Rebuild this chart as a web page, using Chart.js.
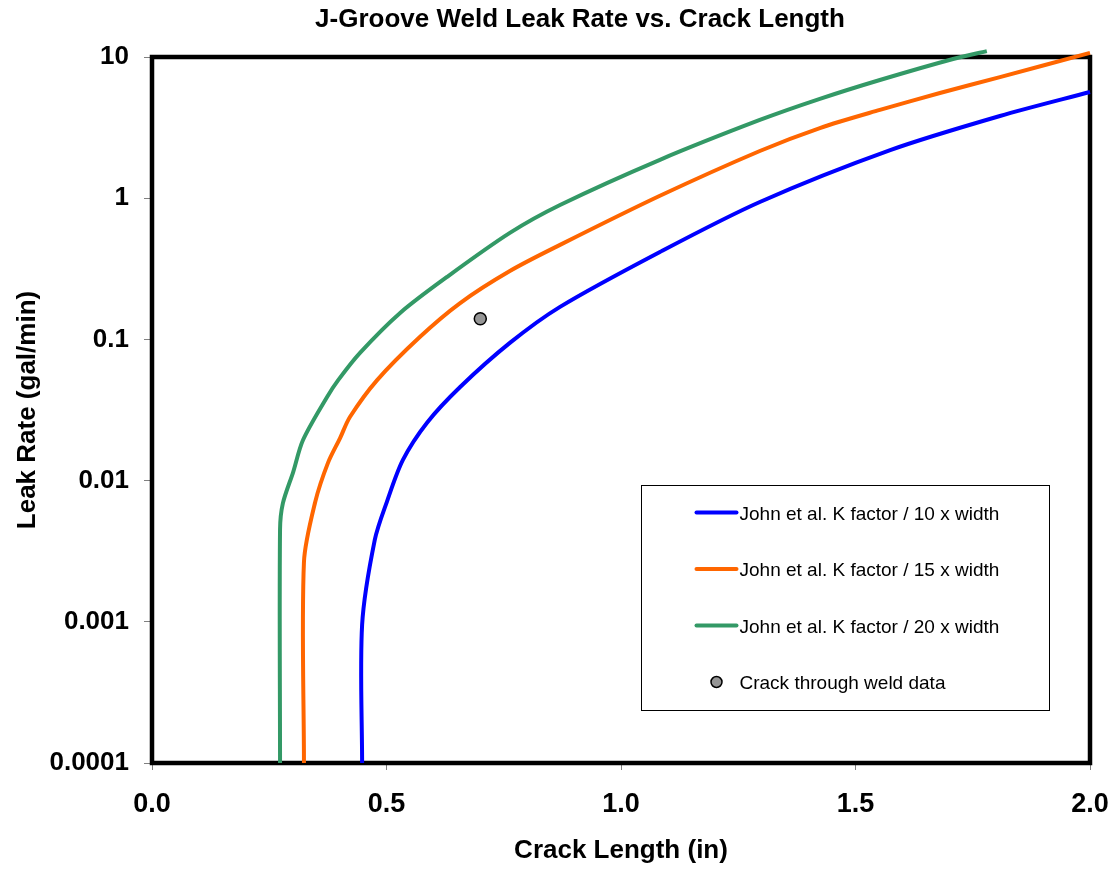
<!DOCTYPE html>
<html>
<head>
<meta charset="utf-8">
<title>J-Groove Weld Leak Rate vs. Crack Length</title>
<script src="https://cdn.jsdelivr.net/npm/chart.js@4.4.1/dist/chart.umd.min.js"></script>
<style>
  html, body { margin: 0; padding: 0; background: #ffffff; }
  #wrap { width: 1116px; height: 869px; }
</style>
</head>
<body>
<div id="wrap"><canvas id="leakChart" width="1116" height="869"></canvas></div>
<script>
// values
const chartTitle = 'J-Groove Weld Leak Rate vs. Crack Length';
const seriesNames = [
    'John et al. K factor / 10 x width',
    'John et al. K factor / 15 x width',
    'John et al. K factor / 20 x width',
    'Crack through weld data'
];

const crackBlue = [0.448, 0.448, 0.475, 0.501, 0.535, 0.586, 0.657, 0.763, 0.870, 1.083, 1.296, 1.574, 1.808, 2.0];
const leakBlue = [0.0001, 0.00095, 0.0038, 0.0071, 0.014, 0.0256, 0.046, 0.0944, 0.170, 0.416, 0.94, 2.19, 3.82, 5.65];

const crackOrange = [0.324, 0.324, 0.348, 0.375, 0.401, 0.422, 0.480, 0.571, 0.657, 0.763, 0.870, 1.083, 1.296, 1.424, 1.552, 1.680, 1.808, 2.0];
const leakOrange = [0.0001, 0.00265, 0.00705, 0.0133, 0.020, 0.0282, 0.0515, 0.104, 0.181, 0.305, 0.467, 1.04, 2.16, 3.14, 4.22, 5.56, 7.21, 10.7];

const crackGreen = [0.273, 0.273, 0.279, 0.301, 0.322, 0.373, 0.397, 0.443, 0.529, 0.629, 0.763, 0.870, 1.083, 1.296, 1.424, 1.552, 1.708, 1.780];
const leakGreen = [0.0001, 0.0045, 0.0069, 0.0115, 0.0194, 0.039, 0.0515, 0.080, 0.154, 0.277, 0.568, 0.895, 1.87, 3.58, 5.05, 6.87, 9.68, 11.0];

const crackData = [0.70];
const leakData = [0.14];

const xTicks = [0, 0.5, 1.0, 1.5, 2.0];
const yTicks = [0.0001, 0.001, 0.01, 0.1, 1, 10];
const yTickLabels = ['0.0001', '0.001', '0.01', '0.1', '1', '10'];

const FONT = '"Liberation Sans", Arial, Helvetica, sans-serif';

function toPoints(xs, ys) {
    return xs.map((x, i) => ({ x: x, y: ys[i] }));
}

function curve(label, xs, ys, color) {
    return {
        label: label,
        data: toPoints(xs, ys),
        showLine: true,
        borderColor: color,
        backgroundColor: color,
        borderWidth: 4,
        pointRadius: 0,
        pointHoverRadius: 0,
        tension: 0.3,
        clip: false
    };
}

// plot frame, drawn under the curves (they run over the top edge)
const framePlugin = {
    id: 'frame',
    beforeDatasetsDraw(chart) {
        const { ctx, chartArea: a } = chart;
        ctx.save();
        ctx.strokeStyle = '#000000';
        ctx.lineWidth = 4.5;
        ctx.strokeRect(a.left, a.top, a.right - a.left, a.bottom - a.top);
        ctx.restore();
    }
};

const titlePlugin = {
    id: 'sheetTitle',
    afterDraw(chart) {
        const ctx = chart.ctx;
        ctx.save();
        ctx.fillStyle = '#000000';
        ctx.font = 'bold 26px ' + FONT;
        ctx.textAlign = 'center';
        ctx.textBaseline = 'middle';
        ctx.fillText(chartTitle, 580, 20);
        ctx.restore();
    }
};

// boxed legend inside the plot, lower right
const legendPlugin = {
    id: 'boxLegend',
    afterDatasetsDraw(chart) {
        const { ctx, chartArea: a } = chart;
        const left = a.left + 489.5;
        const top = 485.5;
        const w = 408, h = 225;
        ctx.save();
        ctx.fillStyle = '#ffffff';
        ctx.fillRect(left, top, w, h);
        ctx.strokeStyle = '#000000';
        ctx.lineWidth = 1;
        ctx.strokeRect(left, top, w, h);

        ctx.font = '19px ' + FONT;
        ctx.textBaseline = 'middle';
        ctx.textAlign = 'left';
        chart.data.datasets.forEach((ds, i) => {
            const y = top + 27 + i * 56.5;
            if (ds.showLine) {
                ctx.strokeStyle = ds.borderColor;
                ctx.lineWidth = 4;
                ctx.lineCap = 'round';
                ctx.beginPath();
                ctx.moveTo(left + 55, y);
                ctx.lineTo(left + 95, y);
                ctx.stroke();
            } else {
                ctx.fillStyle = ds.backgroundColor;
                ctx.strokeStyle = ds.borderColor;
                ctx.lineWidth = 1.5;
                ctx.beginPath();
                ctx.arc(left + 75, y, 5.5, 0, Math.PI * 2);
                ctx.fill();
                ctx.stroke();
            }
            ctx.fillStyle = '#000000';
            ctx.fillText(ds.label, left + 98, y + 2);
        });
        ctx.restore();
    }
};

const ctx = document.getElementById('leakChart').getContext('2d');

new Chart(ctx, {
    type: 'scatter',
    data: {
        datasets: [
            curve(seriesNames[0], crackBlue, leakBlue, '#0000FF'),
            curve(seriesNames[1], crackOrange, leakOrange, '#FF6600'),
            curve(seriesNames[2], crackGreen, leakGreen, '#339966'),
            {
                label: seriesNames[3],
                data: toPoints(crackData, leakData),
                showLine: false,
                pointRadius: 6,
                pointHoverRadius: 6,
                pointBorderWidth: 1.5,
                backgroundColor: '#969696',
                borderColor: '#000000'
            }
        ]
    },
    options: {
        responsive: false,
        animation: false,
        layout: {
            padding: { top: 57, right: 26, left: 0, bottom: 0 }
        },
        plugins: {
            legend: { display: false },
            title: { display: false },
            tooltip: { enabled: false }
        },
        scales: {
            x: {
                type: 'linear',
                min: 0,
                max: 2,
                afterBuildTicks: scale => {
                    scale.ticks = xTicks.map(v => ({ value: v }));
                },
                afterFit: scale => {
                    scale.height = 106;
                    // let the last tick label hang into the right margin
                    scale.paddingLeft = 0;
                    scale.paddingRight = 0;
                },
                ticks: {
                    color: '#000000',
                    font: { family: FONT, size: 27, weight: 'bold' },
                    padding: 18,
                    maxRotation: 0,
                    callback: value => Number(value).toFixed(1)
                },
                grid: {
                    drawOnChartArea: false,
                    drawTicks: true,
                    tickLength: 7,
                    color: '#808080',
                    lineWidth: 1
                },
                border: { display: false },
                title: {
                    display: true,
                    text: 'Crack Length (in)',
                    color: '#000000',
                    font: { family: FONT, size: 26, weight: 'bold' },
                    padding: { top: 0, bottom: 3 }
                }
            },
            y: {
                type: 'logarithmic',
                min: 0.0001,
                max: 10,
                afterBuildTicks: scale => {
                    scale.ticks = yTicks.map(v => ({ value: v }));
                },
                afterFit: scale => {
                    scale.width = 152;
                },
                ticks: {
                    color: '#000000',
                    font: { family: FONT, size: 26, weight: 'bold' },
                    padding: 15,
                    callback: (value, index) => yTickLabels[index]
                },
                grid: {
                    drawOnChartArea: false,
                    drawTicks: true,
                    tickLength: 8,
                    color: '#808080',
                    lineWidth: 1
                },
                border: { display: false },
                title: {
                    display: true,
                    text: 'Leak Rate (gal/min)',
                    color: '#000000',
                    font: { family: FONT, size: 26, weight: 'bold' },
                    padding: { top: 12, bottom: 0 }
                }
            }
        }
    },
    plugins: [framePlugin, legendPlugin, titlePlugin]
});
</script>
</body>
</html>
